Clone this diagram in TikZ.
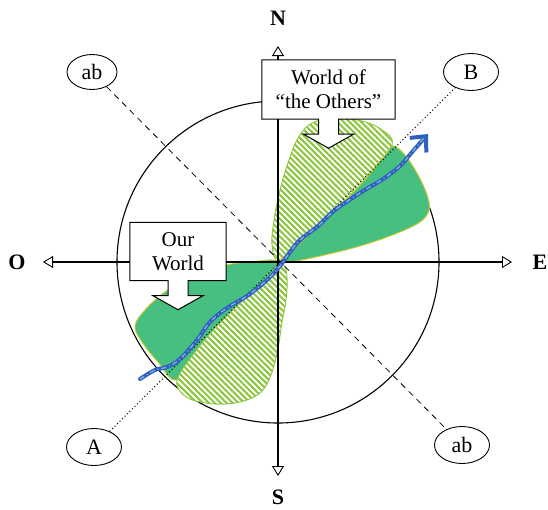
\documentclass[tikz,border=0pt]{standalone}
\usepackage{fontspec}
\setmainfont{Liberation Serif}
\usetikzlibrary{arrows.meta,positioning,calc,shapes.geometric,patterns.meta}
\definecolor{leaf}{HTML}{47BF80}
\definecolor{rim}{HTML}{C9C92E}
\definecolor{hatch}{HTML}{8CC63F}
\definecolor{route}{HTML}{2F5FBF}
\definecolor{routelt}{HTML}{7FB2E5}

\begin{document}
\begin{tikzpicture}[x=1pt,y=-1pt,every node/.style={font=\fontsize{21}{24}\selectfont},
 callbox/.style={fill=white,minimum width=133pt,minimum height=59pt,align=center,inner sep=0pt},
 callline/.style={draw=black,line width=1pt},
 tag/.style={draw=black,ellipse,line width=0.9pt,minimum width=55pt,minimum height=37pt,inner sep=0pt,font=\fontsize{22}{24}\selectfont},
 pole/.style={font=\fontsize{22}{24}\selectfont\bfseries},
 axis/.style={line width=1.1pt,-{Triangle[open,length=10pt,width=12pt,line width=0.9pt]}},
 oth/.style={draw=hatch,line width=0.9pt,preaction={fill=white},pattern={Lines[angle=-45,distance=4.2pt,line width=2.1pt]},pattern color=hatch},
 ours/.style={draw=rim,line width=1pt,fill=leaf},
 route/.style={draw=route,line width=4pt,line cap=round},
 routedash/.style={draw=routelt,line width=1.3pt,dash pattern=on 5pt off 3pt on 1pt off 3pt}]
\useasboundingbox (0,0) rectangle (548,509);
\coordinate (ctr) at (278,262);
\coordinate (ntip) at (278,46);
\coordinate (stip) at (278,476);
\coordinate (wtip) at (43,262);
\coordinate (etip) at (512,262);
\draw[line width=1.1pt] (ctr) circle[radius=161pt];
% the two worlds
\draw[oth] plot[smooth cycle,tension=0.6] coordinates {(278,262) (272,245) (274,220) (280,190) (288,163) (298,138) (312,123) (335,118) (362,121) (382,130) (392,145) (370,185) (330,225) (295,252)};
\draw[ours] plot[smooth cycle,tension=0.6] coordinates {(280,261) (300,243) (330,215) (360,185) (385,155) (393,146) (405,155) (418,175) (427,195) (429,210) (420,222) (395,234) (360,246) (320,256) (290,262)};
\draw[ours] plot[smooth cycle,tension=0.6] coordinates {(278,262) (250,262) (227,265) (195,275) (165,292) (145,310) (135,326) (142,342) (158,362) (176,380) (200,355) (230,318) (258,288)};
\draw[oth] plot[smooth cycle,tension=0.6] coordinates {(282,265) (287,278) (286,300) (282,322) (278,348) (271,375) (260,393) (240,402) (215,404) (190,399) (178,388) (179,375) (195,352) (215,328) (240,303) (262,283)};
% axes
\foreach \t in {ntip,stip,wtip,etip}{\draw[axis] (ctr) -- (\t);}
% tags and diagonals
\node[tag,minimum width=50pt,minimum height=35pt] (abnw) at (92,72) {ab};
\node[tag] (abse) at (462,445) {ab};
\node[tag] (pa) at (94,447) {A};
\node[tag] (pb) at (471,72) {B};
\draw[line width=0.8pt,dash pattern=on 6pt off 5pt] (abnw) -- (abse);
\draw[line width=1pt,dash pattern=on 1pt off 2.5pt] (pa) -- (pb);
% route
\draw[route,-{Straight Barb[length=12pt,width=22pt,line width=4pt]}] plot[smooth,tension=0.6] coordinates {(140,379) (155,370) (167,367) (180,359) (197,340) (210,322) (227,308) (247,296) (267,280) (280,266) (290,252) (300,240) (318,226) (335,210) (360,193) (383,179) (400,166) (413,151) (428,134)};
\draw[routedash] plot[smooth,tension=0.6] coordinates {(140,379) (155,370) (167,367) (180,359) (197,340) (210,322) (227,308) (247,296) (267,280) (280,266) (290,252) (300,240) (318,226) (335,210) (360,193) (383,179) (400,166) (413,151) (424,138)};
% callouts
\node[callbox] (ot) at (328.5,89.5) {World of\\“the Others”};
\node[callbox,minimum width=96pt,minimum height=58pt] (ow) at (178,251.5) {Our\\World};
\foreach \b in {ot,ow}{
 \fill[white] ($(\b.south)+(-10,-1)$) -- ++(0,16) -- ++(-15,0) -- ($(\b.south)+(0,29)$) -- ($(\b.south)+(25,15)$) -- ++(-15,0) -- ++(0,-16) -- cycle;
 \draw[callline] ($(\b.south)+(-10,0)$) -- (\b.south west) -- (\b.north west) -- (\b.north east) -- (\b.south east) -- ($(\b.south)+(10,0)$) -- ++(0,15) -- ++(15,0) -- ($(\b.south)+(0,29)$) -- ($(\b.south)+(-25,15)$) -- ++(15,0) -- cycle;
}
% poles
\node[pole] (n) at (278,18) {N};
\node[pole] (s) at (278,497) {S};
\node[pole] (o) at (17,262) {O};
\node[pole] (e) at (540,262) {E};
\end{tikzpicture}
\end{document}
